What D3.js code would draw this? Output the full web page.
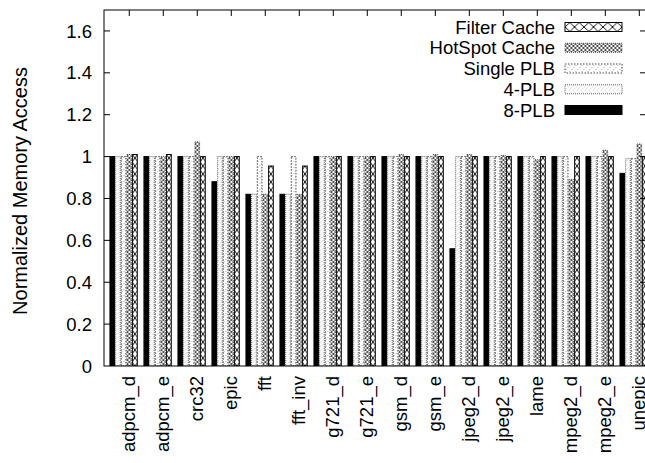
<!DOCTYPE html>
<html>
<head>
<meta charset="utf-8">
<script src="https://cdn.jsdelivr.net/npm/d3@7"></script>
<style>
  html, body { margin: 0; padding: 0; background: #fff; }
  text { font-family: "Liberation Sans", Arial, sans-serif; fill: #000; }
</style>
</head>
<body>
<svg id="chart"></svg>
<script>
// benchmarks along the x axis
const categories = ["adpcm_d", "adpcm_e", "crc32", "epic", "fft", "fft_inv", "g721_d", "g721_e",
  "gsm_d", "gsm_e", "jpeg2_d", "jpeg2_e", "lame", "mpeg2_d", "mpeg2_e", "unepic"];

// legend order (top to bottom)
const seriesNames = ["Filter Cache", "HotSpot Cache", "Single PLB", "4-PLB", "8-PLB"];
// bar order inside a group (left to right)
const barOrder = ["8-PLB", "4-PLB", "Single PLB", "HotSpot Cache", "Filter Cache"];

const plb8Values     = [1.00, 1.00, 1.00, 0.88, 0.82, 0.82, 1.00, 1.00, 1.00, 1.00, 0.56, 1.00, 1.00, 1.00, 1.00, 0.92];
const plb4Values     = [1.00, 1.00, 1.00, 1.00, 0.82, 0.82, 1.00, 1.00, 1.00, 1.00, 1.00, 1.00, 1.00, 1.00, 1.00, 0.99];
const singleValues   = [1.00, 1.00, 1.00, 1.00, 1.00, 1.00, 1.00, 1.00, 1.00, 1.00, 1.00, 1.00, 1.00, 1.00, 1.00, 0.99];
const hotspotValues  = [1.01, 1.00, 1.07, 1.00, 0.82, 0.82, 1.00, 1.00, 1.01, 1.01, 1.01, 1.005, 0.985, 0.89, 1.03, 1.06];
const filterValues   = [1.01, 1.01, 1.00, 1.00, 0.955, 0.955, 1.00, 1.00, 1.00, 1.00, 1.00, 1.00, 1.00, 1.00, 1.00, 1.00];

const yTicks = [0, 0.2, 0.4, 0.6, 0.8, 1, 1.2, 1.4, 1.6];

const valuesBySeries = {
  "8-PLB": plb8Values,
  "4-PLB": plb4Values,
  "Single PLB": singleValues,
  "HotSpot Cache": hotspotValues,
  "Filter Cache": filterValues,
};

function drawChart() {
  const width = 645, height = 463;
  const svg = d3.select("#chart").attr("width", width).attr("height", height);

  const left = 104, right = 646, top = 10, bottom = 366;

  // group index -> x of group's left edge; one group = 6 bar widths (5 bars + gap)
  const x = d3.scaleLinear().domain([-0.16, 15.78]).range([left, right]);
  const step = x(1) - x(0);
  const barW = step / 6;
  const y = d3.scaleLinear().domain([0, 1.7]).range([bottom, top]);

  const defs = svg.append("defs");

  // X pattern (Filter Cache)
  const px = defs.append("pattern").attr("id", "pat-x")
    .attr("patternUnits", "userSpaceOnUse")
    .attr("x", x(0)).attr("y", top)
    .attr("width", barW).attr("height", 8);
  px.append("rect").attr("width", barW).attr("height", 8).attr("fill", "#fff");
  px.append("path").attr("d", `M0,0L${barW},8M${barW},0L0,8`)
    .attr("stroke", "#000").attr("stroke-width", 0.9).attr("fill", "none");

  // X pattern for legend swatch (wider cells)
  const pxl = defs.append("pattern").attr("id", "pat-x-leg")
    .attr("patternUnits", "userSpaceOnUse")
    .attr("x", 565).attr("y", 0)
    .attr("width", 9.5).attr("height", 9);
  pxl.append("rect").attr("width", 9.5).attr("height", 9).attr("fill", "#fff");
  pxl.append("path").attr("d", "M0,0L9.5,9M9.5,0L0,9")
    .attr("stroke", "#000").attr("stroke-width", 0.9).attr("fill", "none");

  // dense crosshatch (HotSpot Cache)
  const ph = defs.append("pattern").attr("id", "pat-hot")
    .attr("patternUnits", "userSpaceOnUse")
    .attr("x", x(0)).attr("y", top)
    .attr("width", 4).attr("height", 4);
  ph.append("rect").attr("width", 4).attr("height", 4).attr("fill", "#fff");
  ph.append("path").attr("d", "M0,0L4,4M4,0L0,4")
    .attr("stroke", "#222").attr("stroke-width", 0.8).attr("fill", "none");

  // sparse dots (Single PLB)
  const ps = defs.append("pattern").attr("id", "pat-single")
    .attr("patternUnits", "userSpaceOnUse")
    .attr("x", x(0)).attr("y", top)
    .attr("width", 6).attr("height", 6);
  ps.append("rect").attr("width", 6).attr("height", 6).attr("fill", "#fff");
  ps.append("path").attr("d", "M0,6L6,0")
    .attr("stroke", "#555").attr("stroke-width", 0.7)
    .attr("stroke-dasharray", "1,2").attr("fill", "none");

  // thin diagonal lines (4-PLB)
  const p4 = defs.append("pattern").attr("id", "pat-4")
    .attr("patternUnits", "userSpaceOnUse")
    .attr("x", x(0)).attr("y", top)
    .attr("width", 4).attr("height", 4);
  p4.append("rect").attr("width", 4).attr("height", 4).attr("fill", "#fff");
  p4.append("path").attr("d", "M0,4L4,0")
    .attr("stroke", "#888").attr("stroke-width", 0.5)
    .attr("stroke-dasharray", "1,1").attr("fill", "none");

  const style = {
    "8-PLB":         { fill: "#000", stroke: "#000", dash: null },
    "4-PLB":         { fill: "url(#pat-4)", stroke: "#666", dash: "1,1" },
    "Single PLB":    { fill: "url(#pat-single)", stroke: "#444", dash: "1.5,1.5" },
    "HotSpot Cache": { fill: "url(#pat-hot)", stroke: "#555", dash: "1,1" },
    "Filter Cache":  { fill: "url(#pat-x)", stroke: "#000", dash: null },
  };

  const clip = defs.append("clipPath").attr("id", "plot-clip");
  clip.append("rect").attr("x", left).attr("y", top)
    .attr("width", right - left).attr("height", bottom - top);

  const plot = svg.append("g").attr("clip-path", "url(#plot-clip)");

  const bars = [];
  categories.forEach((c, i) => {
    barOrder.forEach((s, j) => {
      bars.push({ cat: c, i, s, j, v: valuesBySeries[s][i] });
    });
  });

  plot.selectAll("rect.bar")
    .data(bars)
    .join("rect")
    .attr("class", "bar")
    .attr("x", d => x(d.i) + d.j * barW + 0.5)
    .attr("y", d => y(d.v))
    .attr("width", barW - 1)
    .attr("height", d => y(0) - y(d.v))
    .attr("fill", d => style[d.s].fill)
    .attr("stroke", d => style[d.s].stroke)
    .attr("stroke-width", 1)
    .attr("stroke-dasharray", d => style[d.s].dash);

  // frame
  svg.append("rect")
    .attr("x", left).attr("y", top)
    .attr("width", right - left).attr("height", bottom - top)
    .attr("fill", "none").attr("stroke", "#000").attr("stroke-width", 1);

  // y ticks (left and mirrored right)
  const yt = svg.append("g");
  yt.selectAll("line.yl").data(yTicks.slice(1)).join("line")
    .attr("x1", left).attr("x2", left + 6)
    .attr("y1", d => y(d)).attr("y2", d => y(d))
    .attr("stroke", "#000");
  yt.selectAll("line.yr").data(yTicks.slice(1)).join("line")
    .attr("x1", right).attr("x2", right - 6)
    .attr("y1", d => y(d)).attr("y2", d => y(d))
    .attr("stroke", "#000");
  yt.selectAll("text").data(yTicks).join("text")
    .attr("x", 92).attr("y", d => y(d))
    .attr("dy", "0.36em")
    .attr("text-anchor", "end")
    .attr("font-size", 18.5)
    .text(d => d3.format("")(d));

  // x ticks on top, labels at bottom
  const tickX = i => x(i) + 3.5 * barW;
  svg.selectAll("line.xt").data(categories).join("line")
    .attr("x1", (d, i) => tickX(i)).attr("x2", (d, i) => tickX(i))
    .attr("y1", top).attr("y2", top + 6)
    .attr("stroke", "#000");

  svg.selectAll("text.xl").data(categories).join("text")
    .attr("class", "xl")
    .attr("transform", (d, i) => `translate(${tickX(i) - 1},376) rotate(-90)`)
    .attr("dy", "0.36em")
    .attr("text-anchor", "end")
    .attr("font-size", 18.5)
    .text(d => d);

  // y axis title
  svg.append("text")
    .attr("transform", `translate(20,191) rotate(-90)`)
    .attr("dy", "0.36em")
    .attr("text-anchor", "middle")
    .attr("font-size", 20)
    .text("Normalized Memory Access");

  // legend
  const leg = svg.append("g");
  const legY = d3.scalePoint().domain(seriesNames).range([27, 110]);
  seriesNames.forEach(s => {
    leg.append("text")
      .attr("x", 555).attr("y", legY(s))
      .attr("dy", "0.36em")
      .attr("text-anchor", "end")
      .attr("font-size", 18.5)
      .text(s);
    leg.append("rect")
      .attr("x", 565).attr("y", legY(s) - 4.5)
      .attr("width", 57).attr("height", 9)
      .attr("fill", s === "Filter Cache" ? "url(#pat-x-leg)" : style[s].fill)
      .attr("stroke", style[s].stroke)
      .attr("stroke-width", 1)
      .attr("stroke-dasharray", style[s].dash);
  });
}

drawChart();
</script>
</body>
</html>
